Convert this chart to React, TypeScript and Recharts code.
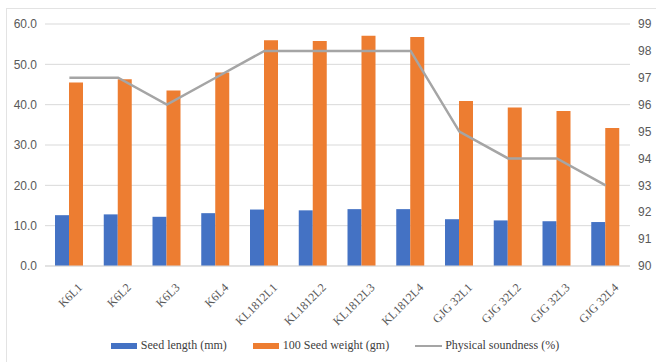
import { Bar, CartesianGrid, ComposedChart, Legend, Line, XAxis, YAxis } from "recharts";

const categories = [
  "K6L1", "K6L2", "K6L3", "K6L4",
  "KL1812L1", "KL1812L2", "KL1812L3", "KL1812L4",
  "GJG 32L1", "GJG 32L2", "GJG 32L3", "GJG 32L4",
];
const seedLength = [12.6, 12.8, 12.2, 13.1, 14.0, 13.8, 14.1, 14.1, 11.6, 11.3, 11.1, 10.9];
const seedWeight = [45.5, 46.3, 43.5, 48.0, 56.0, 55.8, 57.1, 56.8, 40.9, 39.3, 38.4, 34.2];
const soundness = [97, 97, 96, 97, 98, 98, 98, 98, 95, 94, 94, 93];
const leftTicks = [0, 10, 20, 30, 40, 50, 60];
const rightTicks = [90, 91, 92, 93, 94, 95, 96, 97, 98, 99];

const data = categories.map((name, i) => ({
  name,
  length: seedLength[i],
  weight: seedWeight[i],
  sound: soundness[i],
}));

const serif = "'Liberation Serif', 'DejaVu Serif', serif";
const sans = "'Liberation Sans', Arial, sans-serif";

function CategoryTick({ x, y, payload }: any) {
  const tx = x + 8;
  const ty = y + 3;
  return (
    <text
      x={tx}
      y={ty}
      transform={`rotate(-45 ${tx} ${ty})`}
      dx={-4}
      dy={12}
      textAnchor="end"
      fontFamily={serif}
      fontSize={12}
      fill="#595959"
    >
      {payload.value}
    </text>
  );
}

function LegendBox() {
  const item = { display: "flex", alignItems: "center", marginRight: 26 } as const;
  return (
    <div style={{ display: "flex", justifyContent: "center", fontFamily: serif, fontSize: 12, color: "#404040", paddingLeft: 14, lineHeight: "15px" }}>
      <div style={item}>
        <span style={{ width: 26, height: 6, background: "#4472c4", marginRight: 4 }} />
        Seed length (mm)
      </div>
      <div style={item}>
        <span style={{ width: 26, height: 6, background: "#ed7d31", marginRight: 4 }} />
        100 Seed weight (gm)
      </div>
      <div style={{ ...item, marginRight: 0 }}>
        <span style={{ width: 27, height: 2, background: "#a5a5a5", marginRight: 3 }} />
        Physical soundness (%)
      </div>
    </div>
  );
}

export default function App() {
  return (
    <div style={{ position: "absolute", left: 0, top: 0, width: 656, height: 362, background: "#fff" }}>
      <div
        style={{
          position: "absolute",
          left: 6,
          top: 8,
          width: 660,
          height: 360,
          borderTop: "1px solid #e3e3e3",
          borderLeft: "1px solid #e3e3e3",
        }}
      />
      <ComposedChart
        width={656}
        height={362}
        data={data}
        margin={{ top: 24, right: 0, left: 0, bottom: 0 }}
        barGap={0}
        style={{ position: "absolute", left: 0, top: 0 }}
      >
        <CartesianGrid yAxisId="left" vertical={false} stroke="#d9d9d9" />
        <XAxis
          dataKey="name"
          height={72}
          interval={0}
          tick={<CategoryTick />}
          tickLine={false}
          axisLine={{ stroke: "#d9d9d9" }}
        />
        <YAxis
          yAxisId="left"
          width={45}
          domain={[0, 60]}
          ticks={leftTicks}
          tickFormatter={(v: number) => v.toFixed(1)}
          axisLine={false}
          tickLine={false}
          tick={{ fontFamily: sans, fontSize: 12, fill: "#595959" }}
          tickMargin={2}
        />
        <YAxis
          yAxisId="right"
          orientation="right"
          width={26}
          domain={[90, 99]}
          ticks={rightTicks}
          axisLine={false}
          tickLine={false}
          tick={{ fontFamily: sans, fontSize: 12, fill: "#595959" }}
          tickMargin={2}
        />
        <Bar yAxisId="left" dataKey="length" name="Seed length (mm)" fill="#4472c4" barSize={14} isAnimationActive={false} />
        <Bar yAxisId="left" dataKey="weight" name="100 Seed weight (gm)" fill="#ed7d31" barSize={14} isAnimationActive={false} />
        <Line
          yAxisId="right"
          type="linear"
          dataKey="sound"
          name="Physical soundness (%)"
          stroke="#a5a5a5"
          strokeWidth={2.5}
          dot={false}
          activeDot={false}
          isAnimationActive={false}
        />
        <Legend verticalAlign="bottom" height={24} content={<LegendBox />} />
      </ComposedChart>
    </div>
  );
}
